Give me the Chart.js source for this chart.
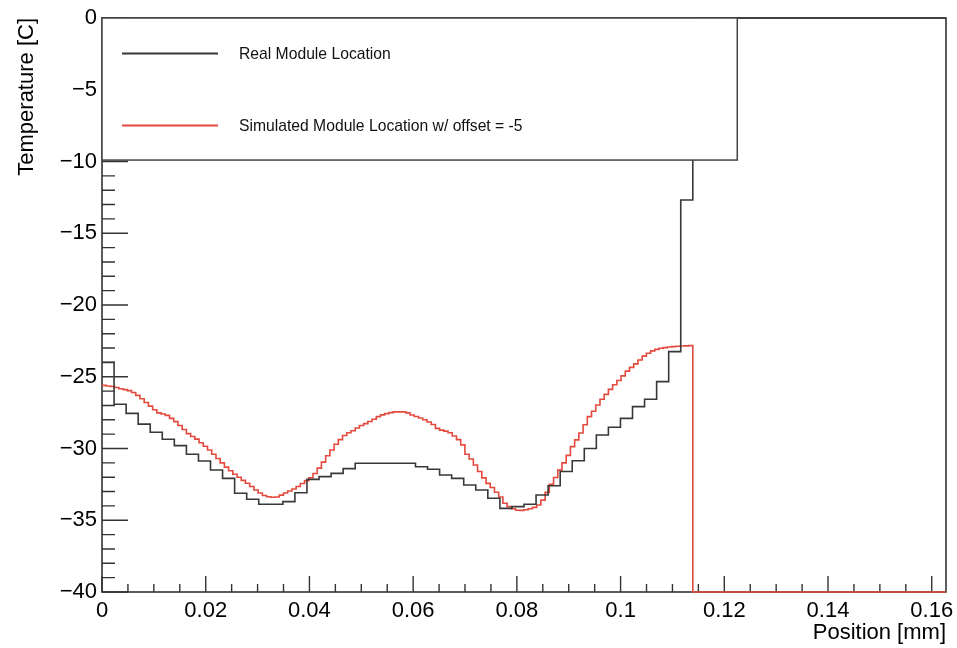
<!DOCTYPE html>
<html lang="en">
<head>
  <meta charset="UTF-8" />
  <title>Temperature vs Position</title>
  <script src="https://cdn.jsdelivr.net/npm/chart.js"></script>
  <style>
    body {
      margin: 0;
      padding: 0;
      background-color: #fff;
    }
    canvas {
      display: block;
    }
  </style>
</head>
<body>
  <canvas id="tempChart" width="957" height="648"></canvas>

  <script>
    // histogram range (mm)
    const X_MIN = 0;
    const X_MAX = 0.16275;

    const xTicks = [0, 0.02, 0.04, 0.06, 0.08, 0.1, 0.12, 0.14, 0.16];
    const xTickLabels = ['0', '0.02', '0.04', '0.06', '0.08', '0.1', '0.12', '0.14', '0.16'];
    const yTicks = [0, -5, -10, -15, -20, -25, -30, -35, -40];
    const yTickLabels = ['0', '\u22125', '\u221210', '\u221215', '\u221220', '\u221225', '\u221230', '\u221235', '\u221240'];

    const seriesNames = ['Real Module Location', 'Simulated Module Location w/ offset = -5'];

    // 70 bins
    const realTemp = [
      -24.0, -26.92, -27.55, -28.3, -28.87, -29.36, -29.8, -30.4, -30.87, -31.5,
      -32.08, -33.12, -33.54, -33.89, -33.89, -33.7, -33.08, -32.15, -31.96, -31.73,
      -31.4, -31.03, -31.03, -31.03, -31.03, -31.03, -31.27, -31.45, -31.85, -32.08,
      -32.54, -32.89, -33.47, -34.17, -34.05, -33.89, -33.24, -32.6, -31.6, -30.85,
      -30.0, -29.06, -28.52, -27.9, -27.08, -26.57, -25.34, -23.25, -12.68, 0,
      0, 0, 0, 0, 0, 0, 0, 0, 0, 0,
      0, 0, 0, 0, 0, 0, 0, 0, 0, 0
    ];

    // 200 bins
    const simTemp = [
      -25.6, -25.64, -25.68, -25.75, -25.84, -25.9, -25.97, -26.1, -26.3, -26.53,
      -26.79, -27.05, -27.3, -27.52, -27.6, -27.69, -27.9, -28.13, -28.4, -28.68,
      -28.96, -29.16, -29.35, -29.6, -29.84, -30.1, -30.4, -30.7, -31.0, -31.3,
      -31.55, -31.79, -32.0, -32.22, -32.42, -32.65, -32.89, -33.1, -33.28, -33.36,
      -33.4, -33.38, -33.25, -33.1, -32.96, -32.82, -32.65, -32.44, -32.24, -32.04,
      -31.74, -31.37, -30.95, -30.5, -30.1, -29.7, -29.38, -29.09, -28.9, -28.76,
      -28.57, -28.4, -28.27, -28.12, -27.96, -27.78, -27.66, -27.57, -27.5, -27.45,
      -27.45, -27.45, -27.52, -27.67, -27.77, -27.87, -28.0, -28.15, -28.33, -28.6,
      -28.72, -28.79, -28.9, -29.13, -29.38, -29.75, -30.4, -30.73, -31.15, -31.6,
      -32.05, -32.43, -32.72, -33.05, -33.38, -33.82, -34.05, -34.2, -34.3, -34.31,
      -34.27, -34.2, -34.1, -33.94, -33.6, -33.06, -32.5, -32.02, -31.51, -31.0,
      -30.48, -29.87, -29.4, -28.92, -28.34, -27.78, -27.4, -26.97, -26.57, -26.23,
      -25.88, -25.56, -25.26, -24.94, -24.61, -24.35, -24.1, -23.83, -23.56, -23.36,
      -23.2, -23.09, -23.01, -22.97, -22.93, -22.9, -22.87, -22.86, -22.85, -22.83,
      -40, -40, -40, -40, -40, -40, -40, -40, -40, -40,
      -40, -40, -40, -40, -40, -40, -40, -40, -40, -40,
      -40, -40, -40, -40, -40, -40, -40, -40, -40, -40,
      -40, -40, -40, -40, -40, -40, -40, -40, -40, -40,
      -40, -40, -40, -40, -40, -40, -40, -40, -40, -40,
      -40, -40, -40, -40, -40, -40, -40, -40, -40, -40
    ];

    const FONT = '"Liberation Sans", Arial, Helvetica, sans-serif';
    const BLACK = '#383838';
    const RED = '#e4493d';

    // bin contents -> step points (low edges + last high edge)
    function histPoints(values) {
      const w = (X_MAX - X_MIN) / values.length;
      const pts = values.map((v, k) => ({ x: X_MIN + k * w, y: v }));
      pts.push({ x: X_MAX, y: values[values.length - 1] });
      return pts;
    }

    // ROOT style frame with ticks on the inside
    const frameTicks = {
      id: 'frameTicks',
      beforeDatasetsDraw(chart) {
        const { ctx, chartArea: a, scales: { x, y } } = chart;
        ctx.save();
        ctx.strokeStyle = '#333';
        ctx.lineWidth = 1.6;
        ctx.strokeRect(a.left, a.top, a.right - a.left, a.bottom - a.top);

        ctx.lineWidth = 1.4;
        ctx.beginPath();
        for (let i = 0; i <= 40; i++) {
          const py = y.getPixelForValue(-i);
          const len = i % 5 === 0 ? 26 : 13;
          ctx.moveTo(a.left, py);
          ctx.lineTo(a.left + len, py);
        }
        for (let i = 0; i <= 32; i++) {
          const px = x.getPixelForValue(i * 0.005);
          const len = i % 4 === 0 ? 16 : 8;
          ctx.moveTo(px, a.bottom);
          ctx.lineTo(px, a.bottom - len);
        }
        ctx.stroke();
        ctx.restore();
      }
    };

    const legendBox = {
      id: 'legendBox',
      afterDatasetsDraw(chart) {
        const { ctx, scales: { x, y } } = chart;
        const x1 = x.getPixelForValue(0);
        const x2 = x.getPixelForValue(0.1225);
        const y1 = y.getPixelForValue(0);
        const y2 = y.getPixelForValue(-9.9);
        ctx.save();
        ctx.fillStyle = '#fff';
        ctx.fillRect(x1, y1, x2 - x1, y2 - y1);
        ctx.strokeStyle = '#444';
        ctx.lineWidth = 1.5;
        ctx.strokeRect(x1, y1, x2 - x1, y2 - y1);

        const rows = [
          { text: seriesNames[0], color: BLACK, dy: 35.5 },
          { text: seriesNames[1], color: RED, dy: 107.5 }
        ];
        ctx.font = '15.7px ' + FONT;
        ctx.textBaseline = 'middle';
        ctx.textAlign = 'left';
        rows.forEach(r => {
          ctx.strokeStyle = r.color;
          ctx.lineWidth = 2;
          ctx.beginPath();
          ctx.moveTo(x1 + 20, y1 + r.dy);
          ctx.lineTo(x1 + 116, y1 + r.dy);
          ctx.stroke();
          ctx.fillStyle = '#111';
          ctx.fillText(r.text, x1 + 137, y1 + r.dy + 1);
        });
        ctx.restore();
      }
    };

    const ctx = document.getElementById('tempChart').getContext('2d');

    new Chart(ctx, {
      type: 'line',
      data: {
        datasets: [
          {
            label: seriesNames[0],
            data: histPoints(realTemp),
            borderColor: BLACK,
            borderWidth: 1.6,
            stepped: 'before',
            pointRadius: 0,
            fill: false,
            clip: 2
          },
          {
            label: seriesNames[1],
            data: histPoints(simTemp),
            borderColor: RED,
            borderWidth: 1.6,
            stepped: 'before',
            pointRadius: 0,
            fill: false,
            clip: 2
          }
        ]
      },
      options: {
        responsive: false,
        animation: false,
        layout: { padding: { left: 0, right: 11, top: 18, bottom: 0 } },
        plugins: {
          legend: { display: false },
          tooltip: { enabled: false }
        },
        scales: {
          x: {
            type: 'linear',
            min: X_MIN,
            max: X_MAX,
            grid: { display: false, drawTicks: false },
            border: { display: false },
            afterBuildTicks: s => { s.ticks = xTicks.map(v => ({ value: v })); },
            afterFit: s => {
              s.height = 56;
              s.paddingLeft = 0;
              s.paddingRight = 0;
            },
            ticks: {
              callback: (v, i) => xTickLabels[i],
              font: { family: FONT, size: 22 },
              color: '#000',
              padding: 6,
              autoSkip: false,
              maxRotation: 0
            },
            title: {
              display: true,
              text: 'Position [mm]',
              align: 'end',
              color: '#000',
              font: { family: FONT, size: 22 },
              padding: { top: 0, bottom: 2 }
            }
          },
          y: {
            type: 'linear',
            min: -40,
            max: 0,
            grid: { display: false, drawTicks: false },
            border: { display: false },
            afterBuildTicks: s => { s.ticks = yTicks.map(v => ({ value: v })); },
            afterFit: s => {
              s.width = 102;
              s.paddingTop = 0;
              s.paddingBottom = 0;
            },
            ticks: {
              callback: (v, i) => yTickLabels[i],
              font: { family: FONT, size: 22 },
              color: '#000',
              padding: 5,
              autoSkip: false
            },
            title: {
              display: true,
              text: 'Temperature [C]',
              align: 'end',
              color: '#000',
              font: { family: FONT, size: 22 },
              padding: { top: 14, bottom: 0 }
            }
          }
        }
      },
      plugins: [frameTicks, legendBox]
    });
  </script>
</body>
</html>
